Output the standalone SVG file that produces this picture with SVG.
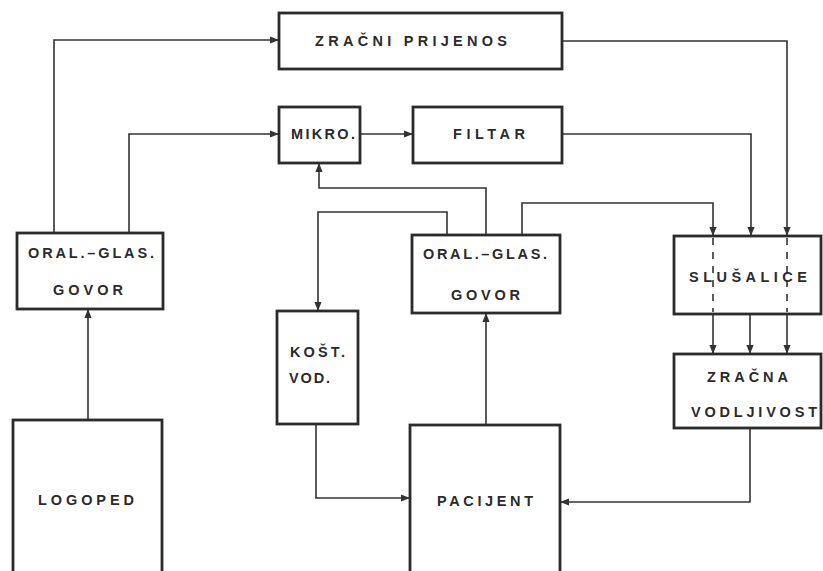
<svg xmlns="http://www.w3.org/2000/svg" width="823" height="571" viewBox="0 0 823 571">
<style>
.box{fill:#fff;stroke:#2b2b2b;stroke-width:2.8}
.ln{fill:none;stroke:#333;stroke-width:1.6}
.dash{fill:none;stroke:#333;stroke-width:1.6;stroke-dasharray:7 7}
.t{font-family:"Liberation Sans",Arial,sans-serif;font-weight:bold;font-size:14.5px;fill:#2b2b2b}
</style>
<defs>
<marker id="ar" viewBox="0 0 10 10" refX="10" refY="5" markerWidth="9" markerHeight="9" markerUnits="userSpaceOnUse" orient="auto">
<path d="M0,1 L10,5 L0,9 Z" fill="#333"/>
</marker>
</defs>
<rect width="823" height="571" fill="#fff"/>
<g id="connectors">
<path class="ln" d="M54,233 V40 H279" marker-end="url(#ar)"/>
<path class="ln" d="M129,233 V134 H279" marker-end="url(#ar)"/>
<path class="ln" d="M360,134 H413" marker-end="url(#ar)"/>
<path class="ln" d="M562,134 H751 V236" marker-end="url(#ar)"/>
<path class="ln" d="M562,41 H787 V236" marker-end="url(#ar)"/>
<path class="ln" d="M486,235 V188 H319 V163" marker-end="url(#ar)"/>
<path class="ln" d="M447,235 V212 H318 V311" marker-end="url(#ar)"/>
<path class="ln" d="M522,235 V203 H713 V236" marker-end="url(#ar)"/>
<path class="ln" d="M713,314 V354" marker-end="url(#ar)"/>
<path class="ln" d="M750,314 V354" marker-end="url(#ar)"/>
<path class="ln" d="M787,314 V354" marker-end="url(#ar)"/>
<path class="ln" d="M750,428 V502 H560" marker-end="url(#ar)"/>
<path class="ln" d="M316,424 V498 H410" marker-end="url(#ar)"/>
<path class="ln" d="M486,425 V313" marker-end="url(#ar)"/>
<path class="ln" d="M88,420 V309" marker-end="url(#ar)"/>
</g>
<g id="zracni-prijenos">
<rect class="box" x="279" y="13" width="283" height="56"/>
<text class="t" x="315" y="46" textLength="192" lengthAdjust="spacing">ZRAČNI PRIJENOS</text>
</g>
<g id="mikro">
<rect class="box" x="279" y="107" width="81" height="56"/>
<text class="t" x="291" y="139" textLength="64" lengthAdjust="spacing">MIKRO.</text>
</g>
<g id="filtar">
<rect class="box" x="413" y="107" width="149" height="56"/>
<text class="t" x="453" y="139" textLength="72" lengthAdjust="spacing">FILTAR</text>
</g>
<g id="oral-glas-left">
<rect class="box" x="17" y="233" width="146" height="76"/>
<text class="t" x="28" y="258" textLength="126" lengthAdjust="spacing">ORAL.–GLAS.</text>
<text class="t" x="53" y="295" textLength="70" lengthAdjust="spacing">GOVOR</text>
</g>
<g id="oral-glas-right">
<rect class="box" x="412" y="235" width="148" height="78"/>
<text class="t" x="423" y="259" textLength="124" lengthAdjust="spacing">ORAL.–GLAS.</text>
<text class="t" x="451" y="300" textLength="69" lengthAdjust="spacing">GOVOR</text>
</g>
<g id="slusalice">
<rect class="box" x="674" y="236" width="147" height="78"/>
<path class="dash" d="M713,238 V312 M787,238 V312"/>
<text class="t" x="689" y="282" textLength="118" lengthAdjust="spacing">SLUŠALICE</text>
</g>
<g id="zracna-vodljivost">
<rect class="box" x="674" y="354" width="147" height="74"/>
<text class="t" x="707" y="382" textLength="81" lengthAdjust="spacing">ZRAČNA</text>
<text class="t" x="691" y="417" textLength="126" lengthAdjust="spacing">VODLJIVOST</text>
</g>
<g id="kost-vod">
<rect class="box" x="277" y="311" width="81" height="113"/>
<text class="t" x="290" y="357" textLength="55" lengthAdjust="spacing">KOŠT.</text>
<text class="t" x="289" y="383" textLength="41" lengthAdjust="spacing">VOD.</text>
</g>
<g id="logoped">
<rect class="box" x="13" y="420" width="149" height="160"/>
<text class="t" x="38" y="505" textLength="96" lengthAdjust="spacing">LOGOPED</text>
</g>
<g id="pacijent">
<rect class="box" x="410" y="425" width="150" height="155"/>
<text class="t" x="437" y="506" textLength="96" lengthAdjust="spacing">PACIJENT</text>
</g>
</svg>
